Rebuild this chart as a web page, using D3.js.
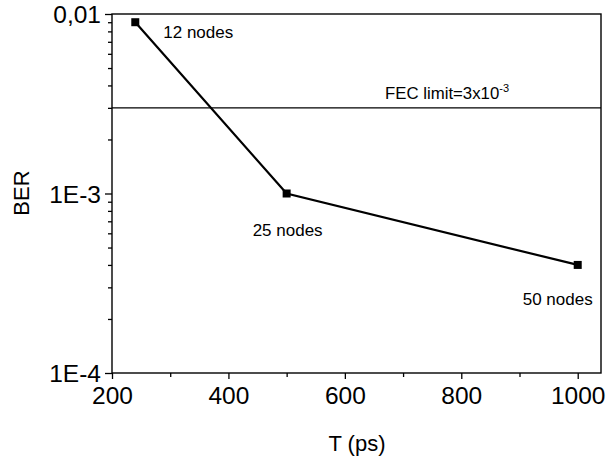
<!DOCTYPE html>
<html><head><meta charset="utf-8">
<script src="https://cdn.jsdelivr.net/npm/d3@7"></script>
<style>
body{margin:0;background:#fff;}
svg text{font-family:"Liberation Sans",Arial,sans-serif !important;fill:#000;}
</style></head>
<body><svg id="c" width="607" height="460"></svg>
<script>
const T = [240, 500, 1000];
const BER = [0.009, 0.001, 0.0004];
const labels = ["12 nodes", "25 nodes", "50 nodes"];
const xTicks = [200, 400, 600, 800, 1000];
const xMinor = [300, 500, 700, 900];
const yTicks = [1e-4, 1e-3, 1e-2];
const yTickLabels = ["1E-4", "1E-3", "0,01"];
const fecLimit = 3e-3;

const svg = d3.select("#c");
const L = 112, R = 601, Tp = 14, B = 373;
const x = d3.scaleLinear().domain([200, 1040]).range([L, R]);
const y = d3.scaleLog().domain([1e-4, 1e-2]).range([B, Tp]);

// x axis
const xa = svg.append("g").attr("transform", `translate(0,${B})`)
  .call(d3.axisBottom(x).tickValues(xTicks).tickSize(6).tickSizeOuter(0).tickFormat(d3.format("d")));
xa.select(".domain").remove();
xa.attr("font-family", null);
xa.selectAll("text").attr("font-size", 24.5).attr("dy", "0.95em").attr("y", 8);
const xm = svg.append("g").attr("transform", `translate(0,${B})`)
  .call(d3.axisBottom(x).tickValues(xMinor).tickSize(4).tickFormat(""));
xm.select(".domain").remove();

// y axis
const ya = svg.append("g").attr("transform", `translate(${L},0)`)
  .call(d3.axisLeft(y).tickValues(yTicks).tickSize(7).tickSizeOuter(0)
    .tickFormat((d, i) => yTickLabels[i]));
ya.select(".domain").remove();
ya.attr("font-family", null);
ya.selectAll("text").attr("font-size", 24.5).attr("x", -11).attr("dy", "0.36em");
const yMinorVals = [];
[1e-4, 1e-3].forEach(dec => { for (let k = 2; k <= 9; k++) yMinorVals.push(dec * k); });
const ym = svg.append("g").attr("transform", `translate(${L},0)`)
  .call(d3.axisLeft(y).tickValues(yMinorVals).tickSize(4).tickFormat(""));
ym.select(".domain").remove();
svg.selectAll(".tick line").attr("stroke", "#000").attr("stroke-width", 1.3);

// frame
svg.append("rect").attr("x", L).attr("y", Tp).attr("width", R - L).attr("height", B - Tp)
  .attr("fill", "none").attr("stroke", "#000").attr("stroke-width", 1.4);

// FEC limit
svg.append("line").attr("x1", L).attr("x2", R).attr("y1", y(fecLimit)).attr("y2", y(fecLimit))
  .attr("stroke", "#000").attr("stroke-width", 1.2);
const fec = svg.append("text").attr("x", 385).attr("y", y(fecLimit) - 9).attr("font-size", 16.8);
fec.append("tspan").text("FEC limit=3x10");
fec.append("tspan").attr("font-size", 11).attr("dy", -7).text("-3");

// data line
const data = T.map((t, i) => ({t, b: BER[i], l: labels[i]}));
svg.append("path").datum(data)
  .attr("d", d3.line().x(d => x(d.t)).y(d => y(d.b)))
  .attr("fill", "none").attr("stroke", "#000").attr("stroke-width", 2.2);
svg.selectAll("rect.pt").data(data).enter().append("rect").attr("class", "pt")
  .attr("x", d => x(d.t) - 4).attr("y", d => y(d.b) - 4).attr("width", 8).attr("height", 8).attr("fill", "#000");

// point labels
const labOff = [[28, 16], [-34, 42], [-55, 40]];
svg.selectAll("text.pl").data(data).enter().append("text").attr("class", "pl")
  .attr("x", (d, i) => x(d.t) + labOff[i][0]).attr("y", (d, i) => y(d.b) + labOff[i][1])
  .attr("font-size", 17).text(d => d.l);

// axis titles
svg.append("text").attr("x", 357).attr("y", 451).attr("text-anchor", "middle").attr("font-size", 22).text("T (ps)");
svg.append("text").attr("transform", "translate(29,193) rotate(-90)").attr("text-anchor", "middle")
  .attr("font-size", 22).text("BER");
</script></body></html>
